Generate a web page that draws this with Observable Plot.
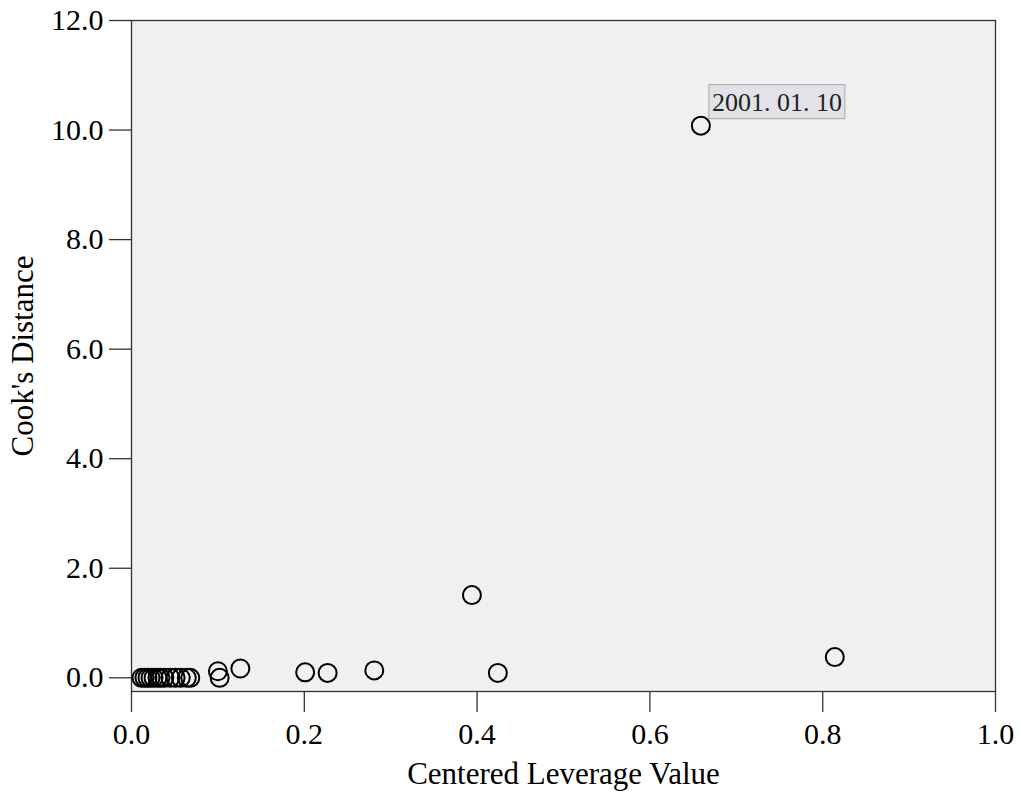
<!DOCTYPE html>
<html>
<head>
<meta charset="utf-8">
<script src="https://cdn.jsdelivr.net/npm/d3@7"></script>
<script src="https://cdn.jsdelivr.net/npm/@observablehq/plot@0.6"></script>
<style>
  html, body { margin: 0; padding: 0; background: #fff; }
  #chart svg { display: block; }
</style>
</head>
<body>
<div id="chart"></div>
<script>
// Centered leverage (x) and Cook's distance (y) for each case
const leverage = [0.0116, 0.015, 0.0185, 0.022, 0.0255, 0.030, 0.0335, 0.038, 0.045, 0.051, 0.057, 0.064, 0.068,
                  0.100, 0.102, 0.126, 0.201, 0.227, 0.281, 0.394, 0.424, 0.659, 0.814];
const cooks    = [0, 0, 0, 0, 0, 0, 0, 0, 0, 0, 0, 0, 0,
                  0.12, 0, 0.17, 0.10, 0.09, 0.135, 1.51, 0.09, 10.08, 0.378];
const caseLabels = ["", "", "", "", "", "", "", "", "", "", "", "", "",
                    "", "", "", "", "", "", "", "", "2001. 01. 10", ""];
const xTicks = [0, 0.2, 0.4, 0.6, 0.8, 1.0];
const yTicks = [0, 2, 4, 6, 8, 10, 12];

const points = leverage.map((v, i) => ({x: v, y: cooks[i], label: caseLabels[i]}));
const labeled = points.filter(d => d.label !== "");

const chart = Plot.plot({
  width: 1021,
  height: 801,
  marginLeft: 131,
  marginRight: 26,
  marginTop: 20,
  marginBottom: 110,
  style: {fontFamily: "'Liberation Serif', 'Times New Roman', serif", background: "#fff", color: "#000"},
  x: {domain: [0, 1]},
  y: {domain: [-0.25, 12]},
  marks: [
    Plot.frame({fill: "#f0f0f0"}),
    Plot.frame({stroke: "#333", strokeWidth: 1.3}),
    Plot.axisX({ticks: xTicks, tickFormat: d3.format(".1f"), tickSize: 21, tickPadding: 10, fontSize: 30,
                stroke: "#333", strokeWidth: 1.3,
                label: "Centered Leverage Value", labelAnchor: "center", labelArrow: "none", labelOffset: 92}),
    Plot.axisY({ticks: yTicks, tickFormat: d3.format(".1f"), tickSize: 22, tickPadding: 6, fontSize: 30,
                stroke: "#333", strokeWidth: 1.3,
                label: "Cook's Distance", labelAnchor: "center", labelArrow: "none", labelOffset: 121}),
    Plot.dot(points, {x: "x", y: "y", r: 9, stroke: "#000", strokeWidth: 2, fill: "none"}),
    Plot.text(labeled, {x: "x", y: "y", text: "label", textAnchor: "start", lineAnchor: "bottom",
                        dx: 11, dy: -15, fontSize: 26, fill: "#222", className: "case-label"})
  ]
});

document.getElementById("chart").appendChild(chart);

// Axis titles are a little larger than tick labels in the reference
chart.querySelectorAll('g[aria-label="x-axis label"], g[aria-label="y-axis label"]').forEach(g => {
  g.setAttribute("font-size", "31");
});

// Draw the tooltip-like box behind each case label, sized from the text itself
chart.querySelectorAll(".case-label text").forEach(t => {
  const b = t.getBBox();
  const r = document.createElementNS("http://www.w3.org/2000/svg", "rect");
  r.setAttribute("x", b.x - 3);
  r.setAttribute("y", b.y - 3);
  r.setAttribute("width", b.width + 6);
  r.setAttribute("height", b.height + 5);
  r.setAttribute("fill", "#e2e2e8");
  r.setAttribute("stroke", "#a8a8a8");
  r.setAttribute("stroke-width", "1");
  const tr = t.getAttribute("transform");
  if (tr) r.setAttribute("transform", tr);
  t.parentNode.insertBefore(r, t);
});
</script>
</body>
</html>
